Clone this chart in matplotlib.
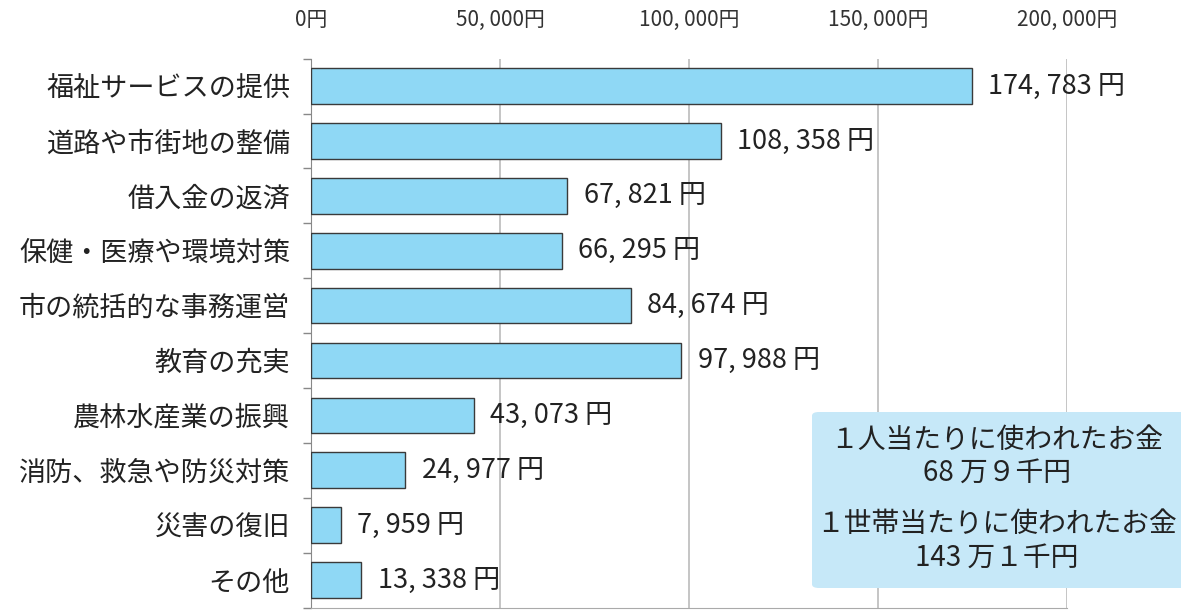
import numpy as np
import matplotlib.pyplot as plt
from matplotlib.patches import FancyBboxPatch

plt.rcParams['font.family'] = ['Noto Sans CJK JP', 'DejaVu Sans']

# 項目と金額（1人当たり）
kategori = ['福祉サービスの提供', '道路や市街地の整備', '借入金の返済', '保健・医療や環境対策',
            '市の統括的な事務運営', '教育の充実', '農林水産業の振興', '消防、救急や防災対策',
            '災害の復旧', 'その他']
kingaku = [174783, 108358, 67821, 66295, 84674, 97988, 43073, 24977, 7959, 13338]
xticks = [0, 50000, 100000, 150000, 200000]
box_lines = ['１人当たりに使われたお金', '68 万９千円', '１世帯当たりに使われたお金', '143 万１千円']

fig = plt.figure(figsize=(11.81, 6.11), dpi=100)
ax = fig.add_axes([0.2633, 0.0057, 0.9035 - 0.2633, 0.904 - 0.0057])

y = np.arange(len(kategori))
ax.barh(y, kingaku, height=0.65, color='#8fd8f5', edgecolor='#3a3a3a', linewidth=1.0, zorder=3)

for yi, v in zip(y, kingaku):
    ax.text(v + 4300, yi, f'{v:,}'.replace(',', ', ') + ' 円', va='center', ha='left',
            fontsize=19.5, color='#222222', zorder=4)

ax.set_ylim(len(kategori) - 0.5, -0.5)
ax.set_xlim(0, 200000)

ax.set_yticks(y)
ax.set_yticklabels(kategori, fontsize=19.5, color='#222222')
ax.tick_params(axis='y', length=0, pad=15)
ax.set_yticks(np.arange(len(kategori) + 1) - 0.5, minor=True)
ax.tick_params(axis='y', which='minor', length=6, color='#888888', width=1)

ax.xaxis.tick_top()
ax.set_xticks(xticks)
ax.set_xticklabels([f'{v:,}'.replace(',', ', ') + '円' for v in xticks], fontsize=15, color='#333333')
ax.tick_params(axis='x', length=0, pad=20)
ax.grid(axis='x', color='#bbbbbb', linewidth=1.2, zorder=0)

for s in ['top', 'right']:
    ax.spines[s].set_visible(False)
ax.spines['left'].set_color('#888888')
ax.spines['bottom'].set_color('#aaaaaa')

# 合計のボックス
box = FancyBboxPatch((812 / 1181, (611 - 588) / 611), 380 / 1181, 176 / 611,
                     boxstyle='round,pad=0,rounding_size=0.006', transform=fig.transFigure,
                     facecolor='#c6e8f8', edgecolor='none', zorder=5)
fig.patches.append(box)
for txt, py in zip(box_lines, [440, 473, 524, 558]):
    fig.text(997 / 1181, (611 - py) / 611, txt, ha='center', va='center', fontsize=20,
             color='#222222', zorder=6)

fig.savefig('out.png', dpi=100)
